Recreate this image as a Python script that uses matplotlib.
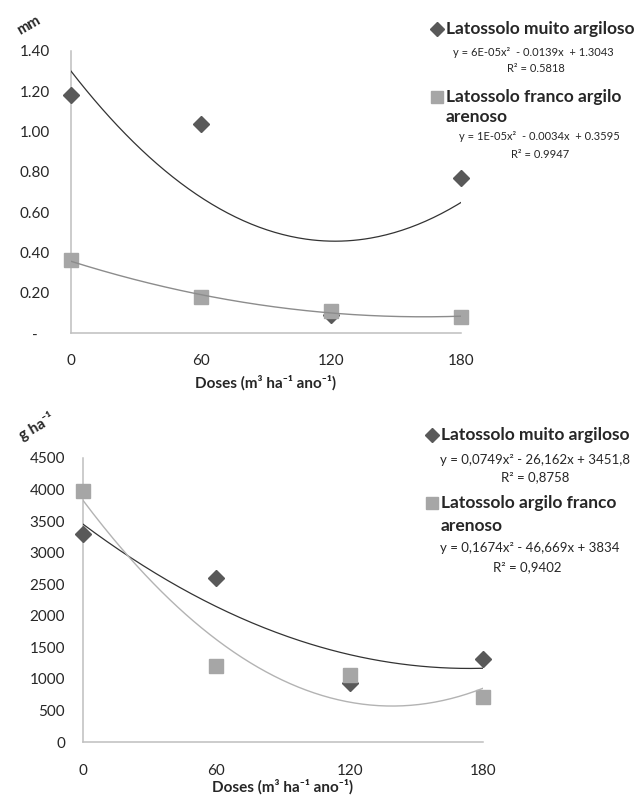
"""
Two panels: mm and g ha-1 against dose, two soils each, with quadratic trend lines
"""
#importing stuff
import numpy as np
import matplotlib
matplotlib.use("Agg")
import matplotlib.pyplot as plt
from matplotlib.lines import Line2D

#data
doses = [0, 60, 120, 180]
dose_labels = ["0", "60", "120", "180"]

mm_muito = [1.18, 1.04, 0.09, 0.77]
mm_franco = [0.36, 0.18, 0.11, 0.08]
mm_ticks = [0, 0.2, 0.4, 0.6, 0.8, 1.0, 1.2, 1.4]
mm_tick_labels = ["-   ", "0.20", "0.40", "0.60", "0.80", "1.00", "1.20", "1.40"]

g_muito = [3300, 2600, 930, 1320]
g_franco = [3970, 1200, 1055, 710]
g_ticks = [0, 500, 1000, 1500, 2000, 2500, 3000, 3500, 4000, 4500]

top_names = ["Latossolo muito argiloso", "Latossolo franco argilo", "arenoso"]
top_eqs = ["y = 6E-05x\u00b2  - 0.0139x  + 1.3043", "R\u00b2 = 0.5818",
           "y = 1E-05x\u00b2  - 0.0034x  + 0.3595", "R\u00b2 = 0.9947"]
bot_names = ["Latossolo muito argiloso", "Latossolo argilo franco", "arenoso"]
bot_eqs = ["y = 0,0749x\u00b2 - 26,162x + 3451,8", "R\u00b2 = 0,8758",
           "y = 0,1674x\u00b2 - 46,669x + 3834", "R\u00b2 = 0,9402"]
xlabel = "Doses (m\u00b3 ha\u207b\u00b9 ano\u207b\u00b9)"

W, H = 644, 799
FONT = ["Lato", "DejaVu Sans"]
DARK = "#595959"
LIGHT = "#a6a6a6"
TXT = "#262626"

plt.rcParams["font.family"] = FONT


#pixel position (from top left) to figure fraction
def px(x, y):
    return x / W, 1 - y / H


def axes_box(left, top, right, bottom):
    return [left / W, 1 - bottom / H, (right - left) / W, (bottom - top) / H]


def panel(fig, box, y1, y2, ylim, ticks, tick_labels, ypad, xpad, line2_color):
    ax = fig.add_axes(box)
    ax.plot(doses, y1, linestyle="none", marker="D", markersize=8.5,
            color=DARK, clip_on=False, zorder=3)
    ax.plot(doses, y2, linestyle="none", marker="s", markersize=10,
            color=LIGHT, clip_on=False, zorder=4)
    #quadratic trend lines like the spreadsheet ones
    xs = np.linspace(0, 180, 200)
    ax.plot(xs, np.polyval(np.polyfit(doses, y1, 2), xs), color="#333333",
            linewidth=0.9, zorder=5)
    ax.plot(xs, np.polyval(np.polyfit(doses, y2, 2), xs), color=line2_color,
            linewidth=1.0, zorder=5)
    ax.set_xlim(0, 180)
    ax.set_ylim(*ylim)
    ax.set_xticks(doses)
    ax.set_xticklabels(dose_labels)
    ax.set_yticks(ticks)
    ax.set_yticklabels(tick_labels)
    ax.tick_params(axis="y", length=0, pad=ypad, labelsize=11, labelcolor=TXT)
    ax.tick_params(axis="x", length=0, pad=xpad, labelsize=11, labelcolor=TXT)
    for s in ["top", "right"]:
        ax.spines[s].set_visible(False)
    for s in ["left", "bottom"]:
        ax.spines[s].set_color("#bfbfbf")
        ax.spines[s].set_linewidth(1.1)
    ax.set_facecolor("none")
    return ax


def legend(fig, mx, ty, names, eqs, eq_x, eq_y, eq_size):
    #markers
    fig.add_artist(Line2D([px(mx, ty[0])[0]], [px(mx, ty[0])[1]], marker="D",
                          markersize=7.5, color=DARK, linestyle="none",
                          transform=fig.transFigure))
    fig.add_artist(Line2D([px(mx, ty[1])[0]], [px(mx, ty[1])[1]], marker="s",
                          markersize=9, color=LIGHT, linestyle="none",
                          transform=fig.transFigure))
    for name, y in zip(names, ty):
        fig.text(*px(mx + 9, y), name, ha="left", va="center", fontsize=12.5,
                 fontweight="bold", color=TXT)
    for eq, x, y in zip(eqs, eq_x, eq_y):
        fig.text(*px(x, y), eq, ha="center", va="center", fontsize=eq_size,
                 color=TXT)


fig = plt.figure(figsize=(W / 100, H / 100), dpi=100)

#top panel
ax1 = panel(fig, axes_box(70.7, 51, 461, 333), mm_muito, mm_franco, (0, 1.4),
            mm_ticks, mm_tick_labels, 15, 15, "#8c8c8c")
ax1.set_xlabel(xlabel, fontsize=11, fontweight="bold", color=TXT, labelpad=5)
fig.text(*px(29, 25), "mm", rotation=30, ha="center", va="center",
         fontsize=10.5, fontweight="bold", color=TXT)
legend(fig, 437, [29, 97, 117], top_names, top_eqs,
       [533, 536, 539, 540], [53, 69, 137, 154], 8)

#bottom panel
ax2 = panel(fig, axes_box(83, 458, 483, 742), g_muito, g_franco, (0, 4500),
            g_ticks, [str(t) for t in g_ticks], 13, 16, "#b3b3b3")
ax2.set_xlabel(xlabel, fontsize=11, fontweight="bold", color=TXT, labelpad=1)
fig.text(*px(37, 427), "g ha\u207b\u00b9", rotation=30, ha="center", va="center",
         fontsize=11, fontweight="bold", color=TXT)
legend(fig, 432, [435, 503, 526], bot_names, bot_eqs,
       [535, 535, 530, 527], [460, 477, 548, 567], 9.5)

plt.savefig("out.png", dpi=100)
